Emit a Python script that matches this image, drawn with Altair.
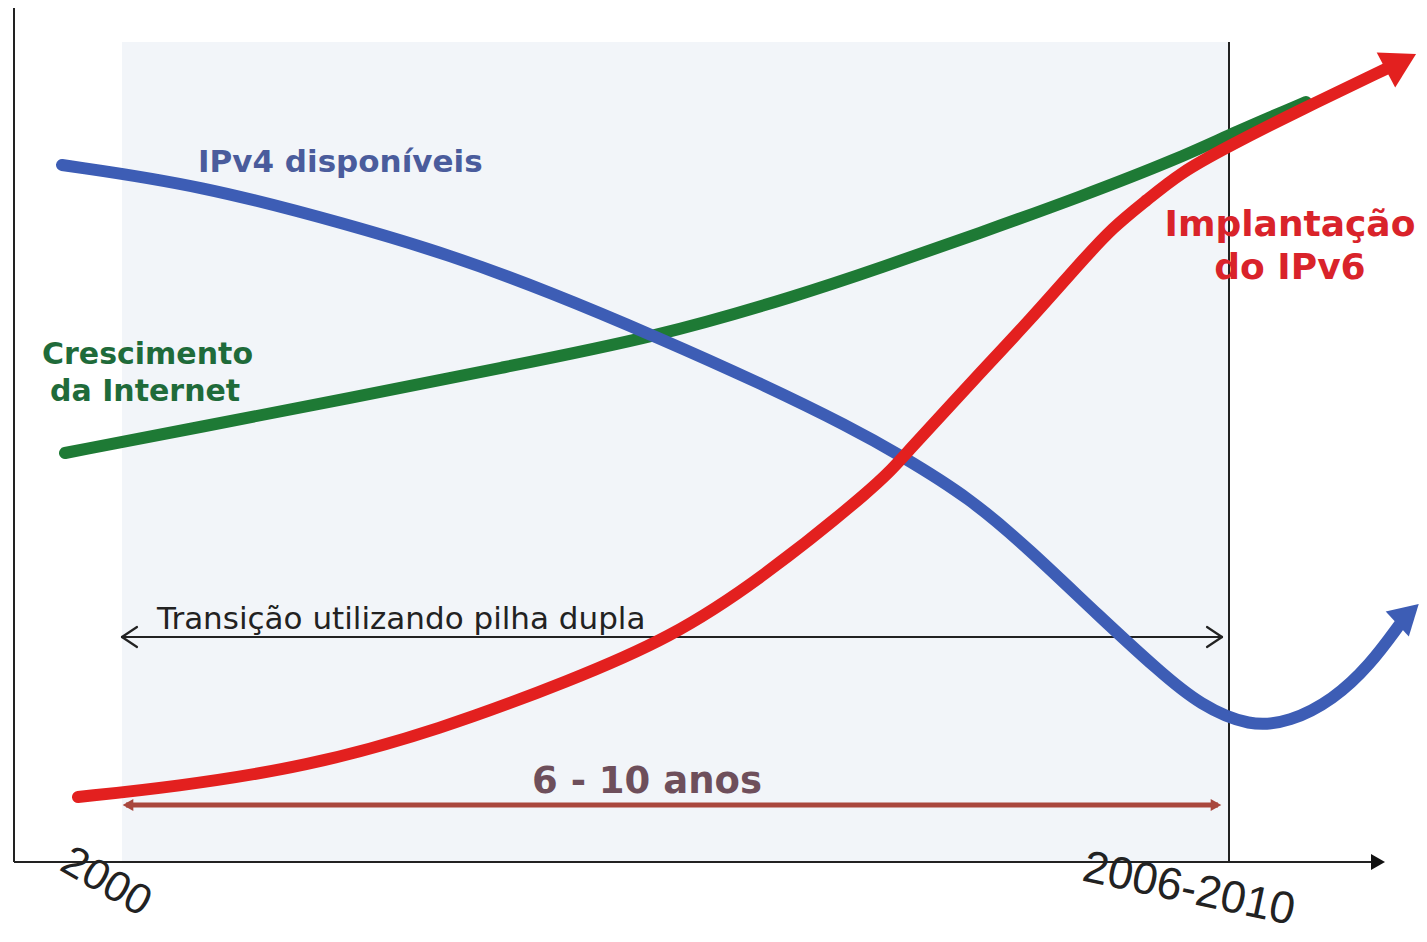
import altair as alt
import pandas as pd

# ---- values (x: along time axis, y: level above axis) ----
ipv4_x = [48, 186, 336, 436, 536, 643, 746, 836, 886, 956, 1016, 1086, 1146, 1186, 1236, 1276, 1319, 1356, 1386]
ipv4_y = [697, 677, 637, 607, 570, 525, 479, 435, 407, 364, 312, 245, 190, 157, 135, 140, 162, 197, 238]
net_x = [51, 186, 336, 486, 643, 786, 866, 966, 1066, 1166, 1219, 1292]
net_y = [409, 435, 464, 494, 525, 567, 594, 629, 665, 704, 729, 760]
ipv6_x = [64, 159, 292, 425, 558, 656, 746, 866, 886, 966, 1016, 1066, 1099, 1133, 1166, 1213, 1286, 1376]
ipv6_y = [65, 75, 95, 132, 182, 224, 282, 379, 402, 489, 542, 599, 635, 662, 689, 715, 752, 795]

period_start, period_end = 108, 1215      # 2000 .. 2006-2010
band_top = 820
axis_end = 1361
dual_stack_level = 225
years_level = 57

W, H = 1411, 926
XS = alt.Scale(domain=[-6, 1405])
YS = alt.Scale(domain=[-72, 854])


def ex(f="x"):
    return alt.X(f + ":Q", scale=XS, axis=None)


def ey(f="y"):
    return alt.Y(f + ":Q", scale=YS, axis=None)


layers = []

# shaded transition band
band = pd.DataFrame({"x": [period_start], "x2": [period_end], "y": [0], "y2": [band_top]})
layers.append(alt.Chart(band).mark_rect(color="#f2f5f9").encode(
    x=ex(), x2="x2:Q", y=ey(), y2="y2:Q"))

# axes and vertical marker line
segs = pd.DataFrame({
    "x": [0, 0, period_end],
    "x2": [0, axis_end, period_end],
    "y": [0, 0, 0],
    "y2": [862, 0, band_top],
})
layers.append(alt.Chart(segs).mark_rule(color="#222222", strokeWidth=2).encode(
    x=ex(), x2="x2:Q", y=ey(), y2="y2:Q"))

# axis arrow head
ah = pd.DataFrame({"x": [axis_end + 3], "y": [0]})
layers.append(alt.Chart(ah).mark_point(shape="triangle-right", filled=True, size=260,
                                        color="#111111", opacity=1).encode(x=ex(), y=ey()))

# dual-stack double arrow with open chevrons
ds = pd.DataFrame({
    "x": [period_start, period_start, period_start, period_end - 7, period_end - 7],
    "x2": [period_end - 7, period_start + 15, period_start + 15, period_end - 22, period_end - 22],
    "y": [dual_stack_level] * 5,
    "y2": [dual_stack_level, dual_stack_level + 10, dual_stack_level - 10,
           dual_stack_level + 10, dual_stack_level - 10],
})
layers.append(alt.Chart(ds).mark_rule(color="#222222", strokeWidth=2.2, strokeCap="round").encode(
    x=ex(), x2="x2:Q", y=ey(), y2="y2:Q"))

# 6-10 years arrow
yr = pd.DataFrame({"x": [period_start + 4], "x2": [period_end - 11], "y": [years_level], "y2": [years_level]})
layers.append(alt.Chart(yr).mark_rule(color="#a9473d", strokeWidth=5).encode(
    x=ex(), x2="x2:Q", y=ey(), y2="y2:Q"))
yrh = pd.DataFrame({"x": [period_start + 6, period_end - 13],
                    "y": [years_level, years_level],
                    "s": ["triangle-left", "triangle-right"]})
layers.append(alt.Chart(yrh).mark_point(filled=True, size=150, color="#a9473d", opacity=1).encode(
    x=ex(), y=ey(), shape=alt.Shape("s:N", scale=None, legend=None)))


# curves
def curve(xs, ys, color):
    df = pd.DataFrame({"x": xs, "y": ys})
    return alt.Chart(df).mark_line(interpolate="basis", strokeWidth=12,
                                   strokeCap="round", color=color).encode(x=ex(), y=ey())


GREEN = "#1e7a35"
BLUE = "#3d5db5"
RED = "#e3201f"
layers.append(curve(net_x, net_y, GREEN))
layers.append(curve(ipv4_x, ipv4_y, BLUE))
layers.append(curve(ipv6_x, ipv6_y, RED))

# curve arrow heads
heads = pd.DataFrame({"x": [1394, 1387], "y": [248, 800], "a": [47, 62], "c": [BLUE, RED],
                      "sz": [1150, 1550]})
layers.append(alt.Chart(heads).mark_point(shape="triangle-up", filled=True, opacity=1).encode(
    x=ex(), y=ey(), angle=alt.Angle("a:Q", scale=None),
    color=alt.Color("c:N", scale=None), size=alt.Size("sz:Q", scale=None)))


# labels
def label(txt, x, y, size, color, bold=True, align="left", angle=0, font="DejaVu Sans"):
    df = pd.DataFrame({"x": [x], "y": [y], "t": [txt]})
    return alt.Chart(df).mark_text(
        fontSize=size, fontWeight="bold" if bold else "normal", color=color, align=align,
        baseline="middle", angle=angle, font=font).encode(x=ex(), y=ey(), text="t:N")


layers.append(label("IPv4 disponíveis", 184, 699, 31, "#4a5c9c"))
layers.append(label("Crescimento", 28, 507, 30, "#1f6b3a"))
layers.append(label("da Internet", 36, 470, 30, "#1f6b3a"))
layers.append(label("Implantação", 1276, 637, 36, "#d9232a", align="center"))
layers.append(label("do IPv6", 1276, 594, 36, "#d9232a", align="center"))
layers.append(label("Transição utilizando pilha dupla", 143, 242, 31, "#222222", bold=False))
layers.append(label("6 - 10 anos", 633, 80, 37, "#6e4f5b", align="center"))
layers.append(label("2000", 92, -20, 43, "#222222", bold=False, align="center", angle=30,
                    font="Liberation Sans"))
layers.append(label("2006-2010", 1175, -27, 45, "#222222", bold=False, align="center", angle=12,
                    font="Liberation Sans"))

chart = alt.layer(*layers).properties(
    width=W, height=H, autosize=alt.AutoSizeParams(type="none"), padding=0,
    background="white",
).configure_view(stroke=None)

chart.save("out.html", embed_options={"renderer": "svg", "actions": False})
